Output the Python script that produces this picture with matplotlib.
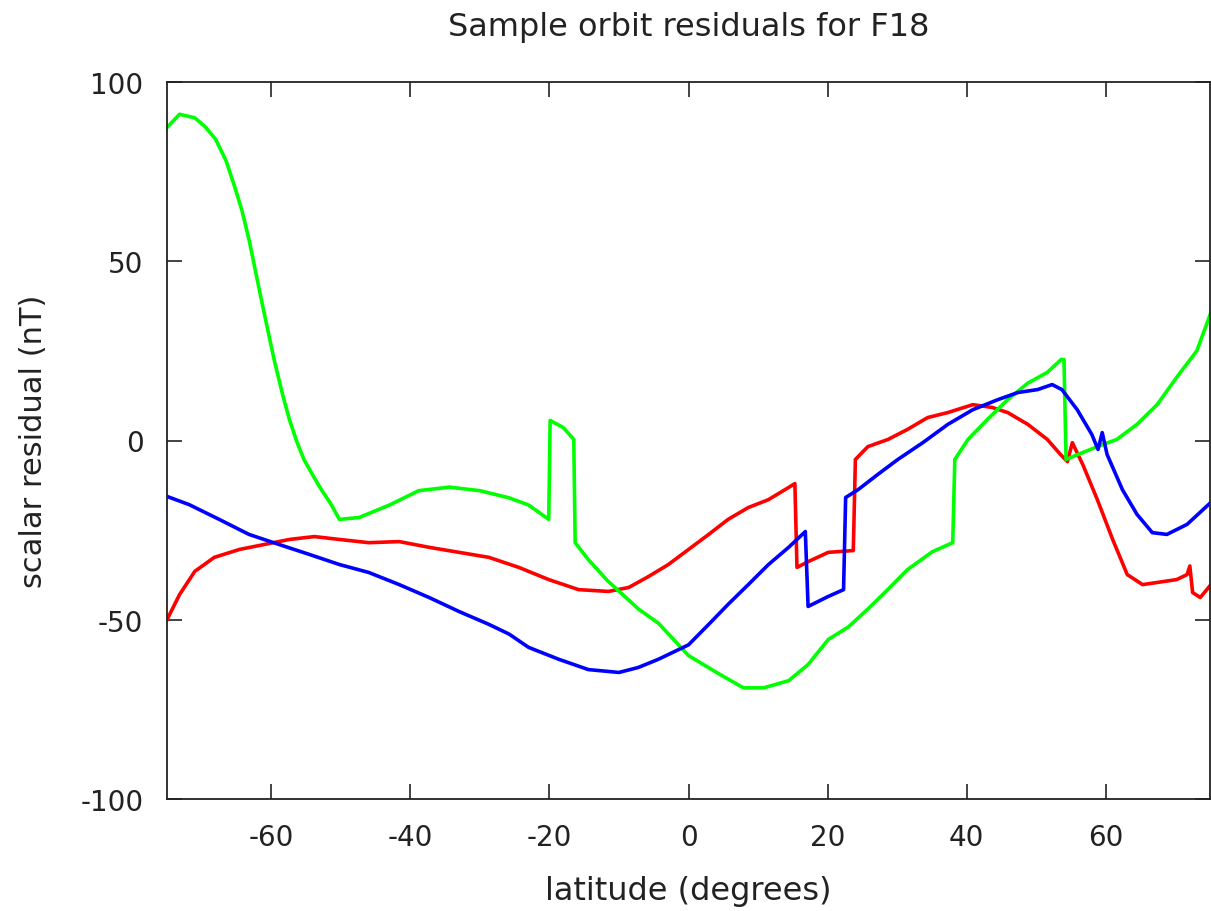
import matplotlib
matplotlib.use('Agg')
import matplotlib.pyplot as plt

# latitude (deg) / residual (nT)
green_lat = [-75, -73.2, -71, -69.5, -68, -66.5, -65.3, -64.2, -63.2, -62.3, -61.4, -59.6, -58.4,
             -57.4, -56.3, -55.3, -54, -52.8, -51.5, -50.2,
             -47.4, -43, -38.8, -34.4, -30, -25.8, -23, -20.1, -19.9, -18, -16.5, -16.3,
             -14.5, -11.7, -7.2, -4.3, 0, 4.3, 7.9, 10.8, 14.4, 17.2, 20.1, 23, 25.8, 28.7,
             31.5, 35.1, 38.0, 38.3, 40.2, 43, 45.9, 48.8, 51.6, 53.6, 54.0, 54.3, 55.9,
             58.8, 61.6, 64.5, 67.4, 70.2, 73.1, 75]
green_res = [87.3, 91, 90, 87.5, 84, 78, 71, 64, 56, 47.5, 39, 22.6, 13,
             5.9, -0.5, -5.3, -9.8, -13.7, -17.5, -22,
             -21.5, -18, -14, -13, -14, -16, -18, -22, 5.6, 3.6, 0.3, -28.5,
             -33, -39, -47, -51, -60, -65, -69, -69, -67, -62.5, -55.5, -52, -47, -41.5,
             -36, -31, -28.5, -5.3, 0.3, 5.9, 11.4, 16, 19, 22.6, 22.6, -5.3, -4,
             -1.7, 0.3, 4.5, 10, 17.6, 25, 35]

red_lat = [-75, -73.2, -71, -68.2, -64.6, -61, -57.4, -53.8, -50.2, -46, -41.6, -37.3,
           -33, -28.7, -24.4, -20.1, -15.8, -11.5, -8.6, -5.8, -2.9, 0, 2.9, 5.7, 8.6,
           11.5, 14.4, 15.3, 15.6, 17.2, 20.1, 23.7, 24.0, 25.8, 28.7, 31.5, 34.4, 37.3,
           40.9, 43.7, 45.9, 48.8, 51.6, 53.5, 54.5, 55.2, 56.7, 58.8, 61, 63.1, 65.3,
           67.4, 70.2, 71.7, 72.1, 72.5, 73.6, 75]
red_res = [-50, -43, -36.5, -32.6, -30.4, -29, -27.6, -26.8, -27.6, -28.5, -28.2, -29.8,
           -31.2, -32.6, -35.4, -38.8, -41.6, -42.1, -41, -38, -34.6, -30.4, -26.2, -22, -18.7,
           -16.5, -13.1, -12, -35.4, -33.8, -31.2, -30.7, -5.3, -1.7, 0.3, 3.1, 6.4, 7.8,
           10, 9.2, 7.8, 4.5, 0.3, -3.9, -5.9, -0.6, -6.7, -16.5, -27.6, -37.4, -40.2,
           -39.6, -38.8, -37.4, -35, -42.4, -43.8, -40.5]

blue_lat = [-75, -71.8, -67.5, -63.2, -58.9, -54.5, -50.2, -46, -41.6, -37.3, -33, -28.7,
            -25.8, -23, -18.7, -14.4, -10, -7.2, -4.3, 0, 2.9, 5.7, 8.6, 11.5, 14.4, 16.8,
            17.2, 20.1, 22.3, 22.6, 24.4, 27.2, 30.1, 33.7, 37.3, 40.9, 44.5, 47.4, 50.2,
            52.3, 53.7, 55.9, 58, 58.9, 59.5, 60.2, 62.4, 64.5, 66.7, 68.8, 71.7, 75]
blue_res = [-15.6, -17.9, -22, -26.2, -29, -31.8, -34.6, -36.8, -40.2, -43.8, -47.7, -51.3,
            -54, -57.7, -61, -63.9, -64.7, -63.3, -61, -57, -51.3, -45.7, -40.2, -34.6, -29.8, -25.4,
            -46.3, -43.5, -41.6, -15.9, -13.7, -9.5, -5.3, -0.6, 4.5, 8.6, 11.4, 13.4, 14.2,
            15.6, 14.2, 8.6, 1.7, -2.5, 2.2, -3.9, -13.7, -20.6, -25.7, -26.2, -23.4, -17.5]

plt.rcParams['font.family'] = 'DejaVu Sans'
plt.rcParams['font.size'] = 20
plt.rcParams['axes.unicode_minus'] = False

fig = plt.figure(figsize=(12.11, 9.12), dpi=100)
ax = fig.add_axes([167 / 1211, 112 / 912, 1043 / 1211, 717 / 912])

ax.plot(red_lat, red_res, color='#ff0000', lw=2.6)
ax.plot(green_lat, green_res, color='#00ff00', lw=2.6)
ax.plot(blue_lat, blue_res, color='#0000ff', lw=2.6)

ax.set_xlim(-75, 75)
ax.set_ylim(-100, 100)
ax.set_xticks([-60, -40, -20, 0, 20, 40, 60])
ax.set_yticks([-100, -50, 0, 50, 100])
ax.tick_params(direction='in', length=11, width=1.2, top=True, right=True,
               pad=17, labelsize=20, colors='#222222')
for sp in ax.spines.values():
    sp.set_linewidth(1.3)
    sp.set_color('#222222')

ax.set_xlabel('latitude (degrees)', fontsize=23, color='#222222')
ax.set_ylabel('scalar residual (nT)', fontsize=22, color='#222222')
ax.xaxis.set_label_coords(0.5, -0.106)
ax.yaxis.set_label_coords(-0.114, 0.5)
ax.text(0.5, 1.078, 'Sample orbit residuals for F18', transform=ax.transAxes,
        ha='center', va='center', fontsize=23, color='#222222')

fig.savefig('out.png', dpi=100)
